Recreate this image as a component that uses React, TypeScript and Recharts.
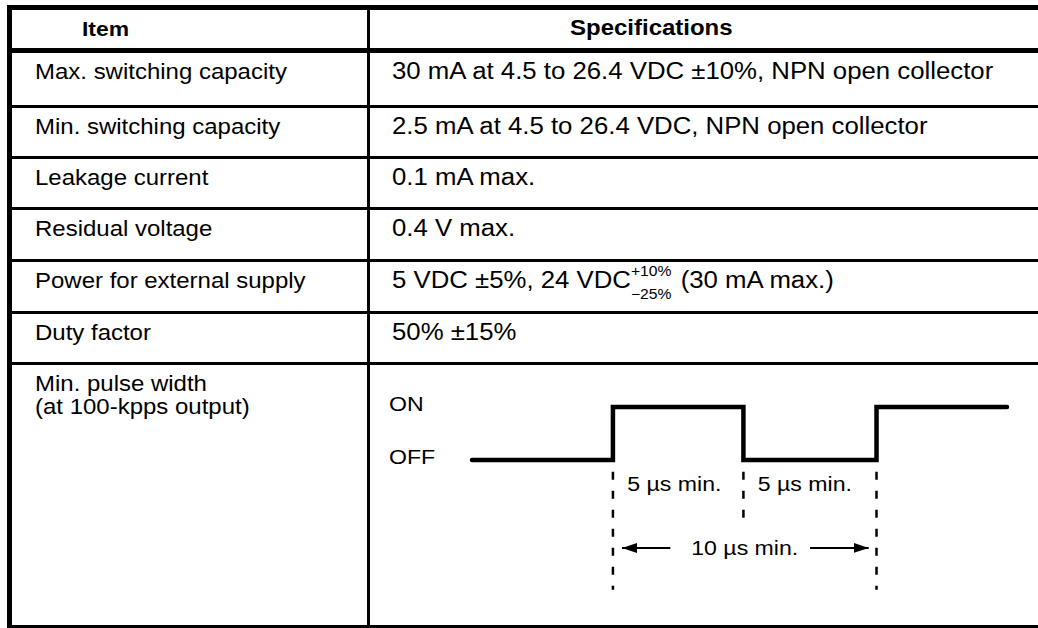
import React from 'react';
import { LineChart, Line, XAxis, YAxis, ReferenceLine, ReferenceDot } from 'recharts';

// table content
const headers = ['Item', 'Specifications'];
const items = [
  'Max. switching capacity',
  'Min. switching capacity',
  'Leakage current',
  'Residual voltage',
  'Power for external supply',
  'Duty factor',
  'Min. pulse width\n(at 100-kpps output)',
];
const specs = [
  '30 mA at 4.5 to 26.4 VDC \u00b110%, NPN open collector',
  '2.5 mA at 4.5 to 26.4 VDC, NPN open collector',
  '0.1 mA max.',
  '0.4 V max.',
  '',
  '50% \u00b115%',
  '',
];
const powerParts = ['5 VDC \u00b15%, 24 VDC', '+10%', '\u221225%', ' (30 mA max.)'];

// timing diagram (time in \u00b5s, level 0 = OFF, 1 = ON)
const pulseTime = [0, 5.4, 10.4, 15.5, 20.5];
const pulseLevel = [0, 1, 0, 1, 1];
const levelNames = ['OFF', 'ON'];
const markerTime = [5.4, 10.4, 15.5];
const markerDepth = [-2.45, -1.25, -2.45];
const widthLabels = ['5 \u00b5s min.', '5 \u00b5s min.'];
const periodLabel = '10 \u00b5s min.';
const periodArrows = [
  [7.6, 5.75],
  [12.95, 15.2],
];

const pulseData = pulseTime.map((t, i) => ({ t, level: pulseLevel[i] }));

const FONT = '"Liberation Sans", Arial, Helvetica, sans-serif';
const ROW_LINES = [50.5, 106, 157, 208, 260, 312, 363];

const Stretch = ({ k = 1.09, children }: any) => (
  <span style={{ display: 'inline-block', transform: `scaleX(${k})`, transformOrigin: 'left center', whiteSpace: 'pre' }}>
    {children}
  </span>
);

const hLine = (y: number, w: number) => (
  <div key={'h' + y} style={{ position: 'absolute', left: 7, right: 0, top: y - w / 2, height: w, background: '#000' }} />
);

const SvgText = ({ x, y, anchor = 'start', size = 21, children }: any) => (
  <text
    transform={`translate(${x},${y}) scale(1.1,1)`}
    textAnchor={anchor}
    dominantBaseline="central"
    fontSize={size}
    fontFamily={FONT}
    fill="#000"
  >
    {children}
  </text>
);

const LevelTick = ({ y, payload }: any) => (
  <SvgText x={9} y={y - 3}>{levelNames[payload.value]}</SvgText>
);

const PulseDiagram = () => (
  <LineChart width={658} height={250} data={pulseData} margin={{ top: 4.5, right: 31, bottom: 7, left: 0 }}>
    <defs>
      <marker id="arrowHead" markerWidth={15} markerHeight={10} refX={15} refY={5} orient="auto" markerUnits="userSpaceOnUse">
        <path d="M0,0 L15,5 L0,10 z" fill="#000" />
      </marker>
    </defs>
    <XAxis dataKey="t" type="number" domain={[0, 20.5]} hide />
    <YAxis type="number" domain={[-3, 1.5]} ticks={[0, 1]} width={92} axisLine={false} tickLine={false} tick={<LevelTick />} />
    {markerTime.map((t, i) => (
      <ReferenceLine
        key={'m' + i}
        segment={[{ x: t, y: -0.22 }, { x: t, y: markerDepth[i] }]}
        stroke="#000"
        strokeWidth={2.5}
        strokeDasharray="8 11"
      />
    ))}
    {periodArrows.map((a, i) => (
      <ReferenceLine
        key={'a' + i}
        segment={[{ x: a[0], y: -1.66 }, { x: a[1], y: -1.66 }]}
        stroke="#000"
        strokeWidth={2}
        markerEnd="url(#arrowHead)"
      />
    ))}
    {widthLabels.map((lbl, i) => (
      <ReferenceDot
        key={'w' + i}
        x={markerTime[i] + 0.55}
        y={-0.45}
        r={0}
        shape={(p: any) => <SvgText x={p.cx} y={p.cy}>{lbl}</SvgText>}
      />
    ))}
    <ReferenceDot
      x={(markerTime[0] + markerTime[2]) / 2}
      y={-1.66}
      r={0}
      shape={(p: any) => <SvgText x={p.cx} y={p.cy} anchor="middle">{periodLabel}</SvgText>}
    />
    <Line
      type="stepAfter"
      dataKey="level"
      stroke="#000"
      strokeWidth={4.5}
      strokeLinecap="round"
      dot={false}
      isAnimationActive={false}
    />
  </LineChart>
);

export default function App() {
  const textStyle: React.CSSProperties = { position: 'absolute', fontSize: 22, lineHeight: '23px', whiteSpace: 'pre' };
  const specStyle: React.CSSProperties = { ...textStyle, fontSize: 23, left: 392 };
  return (
    <div style={{ position: 'absolute', left: 0, top: 0, width: 1038, height: 628, background: '#fff', overflow: 'hidden', fontFamily: FONT, color: '#000' }}>
      {/* grid */}
      {hLine(7, 5)}
      {ROW_LINES.map((y, i) => hLine(y, i === 0 ? 5 : 3))}
      <div style={{ position: 'absolute', left: 7, right: 0, top: 625, height: 3, background: '#000' }} />
      <div style={{ position: 'absolute', left: 7, top: 4.5, width: 5, bottom: 0, background: '#000' }} />
      <div style={{ position: 'absolute', left: 366.5, top: 4.5, width: 3, bottom: 0, background: '#000' }} />

      {/* header */}
      <div style={{ ...textStyle, left: 82, top: 17, fontSize: 21, fontWeight: 'bold' }}>
        <Stretch>{headers[0]}</Stretch>
      </div>
      <div style={{ ...textStyle, left: 570, top: 16, fontSize: 22, fontWeight: 'bold' }}>
        <Stretch>{headers[1]}</Stretch>
      </div>

      {/* rows */}
      {items.map((it, i) => (
        <div key={'i' + i} style={{ ...textStyle, left: 35, top: ROW_LINES[i] + 9 }}>
          {it.split('\n').map((ln, j) => (
            <div key={j}>
              <Stretch>{ln}</Stretch>
            </div>
          ))}
        </div>
      ))}
      {specs.map((sp, i) =>
        sp ? (
          <div key={'s' + i} style={{ ...specStyle, top: ROW_LINES[i] + 9 }}>
            <Stretch k={1.12}>{sp}</Stretch>
          </div>
        ) : null
      )}
      <div style={{ ...specStyle, top: ROW_LINES[4] + 9 }}>
        <Stretch k={1.12}>
          {powerParts[0]}
          <span style={{ display: 'inline-block', position: 'relative', width: 38, height: 23, verticalAlign: 'top' }}>
            <span style={{ position: 'absolute', left: 0, top: -5, fontSize: 14, lineHeight: '14px' }}>{powerParts[1]}</span>
            <span style={{ position: 'absolute', left: 0, top: 18, fontSize: 14, lineHeight: '14px' }}>{powerParts[2]}</span>
          </span>
          {powerParts[3]}
        </Stretch>
      </div>

      {/* timing diagram */}
      <div style={{ position: 'absolute', left: 380, top: 376 }}>
        <PulseDiagram />
      </div>
    </div>
  );
}
